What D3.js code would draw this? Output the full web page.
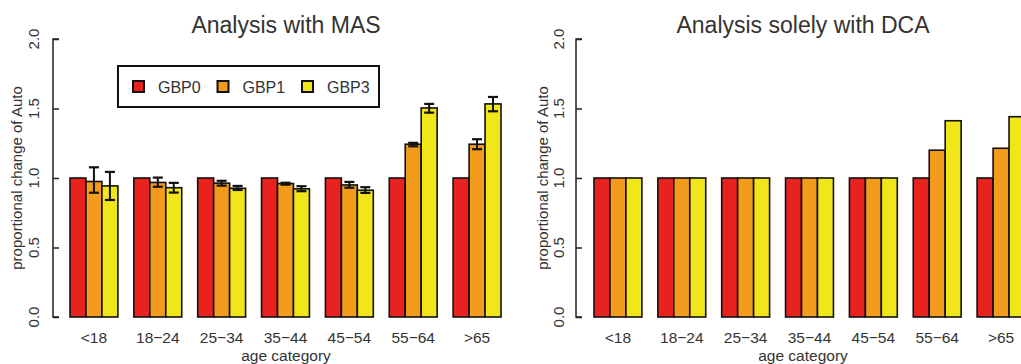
<!DOCTYPE html>
<html>
<head>
<meta charset="utf-8">
<script src="https://cdn.jsdelivr.net/npm/d3@7"></script>
<style>
  html, body { margin: 0; padding: 0; background: #fff; }
  svg { display: block; font-family: "Liberation Sans", Arial, sans-serif; }
</style>
</head>
<body>
<svg id="chart" width="1021" height="364"></svg>
<script>
// ---- data ----
const categories = ["<18", "18\u221224", "25\u221234", "35\u221244", "45\u221254", "55\u221264", ">65"];
const seriesNames = ["GBP0", "GBP1", "GBP3"];
const seriesColors = ["#e8231f", "#f29b1c", "#f0e61a"];
const yTicks = [0, 0.5, 1, 1.5, 2];

// Analysis with MAS
const masGBP0 = [1, 1, 1, 1, 1, 1, 1];
const masGBP1 = [0.975, 0.968, 0.963, 0.960, 0.950, 1.243, 1.243];
const masGBP3 = [0.943, 0.930, 0.926, 0.922, 0.912, 1.504, 1.533];
const masGBP0Lo = [1, 1, 1, 1, 1, 1, 1];
const masGBP0Hi = [1, 1, 1, 1, 1, 1, 1];
const masGBP1Lo = [0.894, 0.937, 0.945, 0.952, 0.930, 1.228, 1.207];
const masGBP1Hi = [1.077, 1.003, 0.980, 0.966, 0.972, 1.253, 1.279];
const masGBP3Lo = [0.842, 0.895, 0.914, 0.905, 0.893, 1.470, 1.480];
const masGBP3Hi = [1.044, 0.965, 0.943, 0.941, 0.934, 1.533, 1.583];

// Analysis solely with DCA
const dcaGBP0 = [1, 1, 1, 1, 1, 1, 1];
const dcaGBP1 = [1, 1, 1, 1, 1, 1.200, 1.214];
const dcaGBP3 = [1, 1, 1, 1, 1, 1.412, 1.441];

const panels = [
  { title: "Analysis with MAS", series: [masGBP0, masGBP1, masGBP3],
    lo: [masGBP0Lo, masGBP1Lo, masGBP3Lo], hi: [masGBP0Hi, masGBP1Hi, masGBP3Hi],
    axisX: 53, tickLabX: 33, yLabX: 16, barRange: [70, 501], titleX: 286, legend: true },
  { title: "Analysis solely with DCA", series: [dcaGBP0, dcaGBP1, dcaGBP3],
    lo: null, hi: null,
    axisX: 576, tickLabX: 558, yLabX: 542, barRange: [594, 1025], titleX: 803, legend: false }
];

const svg = d3.select("#chart");
const y = d3.scaleLinear().domain([0, 2]).range([317, 39]);

panels.forEach(p => {
  const g = svg.append("g");
  const x0 = d3.scaleBand().domain(categories).range(p.barRange).paddingInner(0.25).paddingOuter(0);
  const x1 = d3.scaleBand().domain(seriesNames).range([0, x0.bandwidth()]);

  // bars
  const groups = g.selectAll("g.grp").data(categories).join("g")
    .attr("transform", d => `translate(${x0(d)},0)`);
  groups.each(function(cat, ci) {
    const gg = d3.select(this);
    seriesNames.forEach((s, si) => {
      const v = p.series[si][ci];
      gg.append("rect")
        .attr("x", x1(s)).attr("y", y(v))
        .attr("width", x1.bandwidth()).attr("height", y(0) - y(v))
        .attr("fill", seriesColors[si]).attr("stroke", "#111").attr("stroke-width", 1.6);
    });
    if (p.lo) {
      seriesNames.forEach((s, si) => {
        const lo = p.lo[si][ci], hi = p.hi[si][ci];
        if (hi - lo < 1e-6) return;
        const cx = x1(s) + x1.bandwidth() / 2;
        const cw = 5;
        gg.append("line").attr("x1", cx).attr("x2", cx).attr("y1", y(lo)).attr("y2", y(hi))
          .attr("stroke", "#111").attr("stroke-width", 2);
        [lo, hi].forEach(v => gg.append("line").attr("x1", cx - cw).attr("x2", cx + cw)
          .attr("y1", y(v)).attr("y2", y(v)).attr("stroke", "#111").attr("stroke-width", 2.2));
      });
    }
  });

  // y axis (ticks pointing inward as in the reference)
  const ax = g.append("g").attr("transform", `translate(${p.axisX},0)`)
    .call(d3.axisRight(y).tickValues(yTicks).tickSize(6).tickFormat(""));
  ax.select(".domain").attr("d", `M6,${y(2)}H0V${y(0)}H6`).attr("stroke", "#222").attr("stroke-width", 1.5);
  ax.selectAll(".tick line").attr("stroke", "#222").attr("stroke-width", 1.5);

  yTicks.forEach(t => {
    g.append("text")
      .attr("transform", `translate(${p.tickLabX},${y(t)}) rotate(-90)`)
      .attr("text-anchor", "middle").attr("dominant-baseline", "central")
      .attr("font-size", 15).attr("fill", "#333")
      .text(d3.format(".1f")(t));
  });

  // y label
  g.append("text")
    .attr("transform", `translate(${p.yLabX},${(y(0) + y(2)) / 2}) rotate(-90)`)
    .attr("text-anchor", "middle").attr("dominant-baseline", "central")
    .attr("font-size", 15).attr("fill", "#333")
    .text("proportional change of Auto");

  // x tick labels
  g.selectAll("text.xl").data(categories).join("text")
    .attr("x", d => x0(d) + x0.bandwidth() / 2).attr("y", 343)
    .attr("text-anchor", "middle").attr("font-size", 15.5).attr("fill", "#333")
    .text(d => d);

  // x label
  g.append("text").attr("x", p.titleX).attr("y", 361)
    .attr("text-anchor", "middle").attr("font-size", 15.5).attr("fill", "#333")
    .text("age category");

  // title
  g.append("text").attr("x", p.titleX).attr("y", 33)
    .attr("text-anchor", "middle").attr("font-size", 23).attr("fill", "#333")
    .text(p.title);

  // legend
  if (p.legend) {
    const lg = g.append("g");
    lg.append("rect").attr("x", 118).attr("y", 66).attr("width", 261).attr("height", 41)
      .attr("fill", "#fff").attr("stroke", "#111").attr("stroke-width", 2);
    seriesNames.forEach((s, i) => {
      const lx = 133 + i * 84.5;
      lg.append("rect").attr("x", lx).attr("y", 81).attr("width", 11).attr("height", 11)
        .attr("fill", seriesColors[i]).attr("stroke", "#111").attr("stroke-width", 2);
      lg.append("text").attr("x", lx + 25).attr("y", 93)
        .attr("font-size", 16).attr("fill", "#333").text(s);
    });
  }
});
</script>
</body>
</html>
